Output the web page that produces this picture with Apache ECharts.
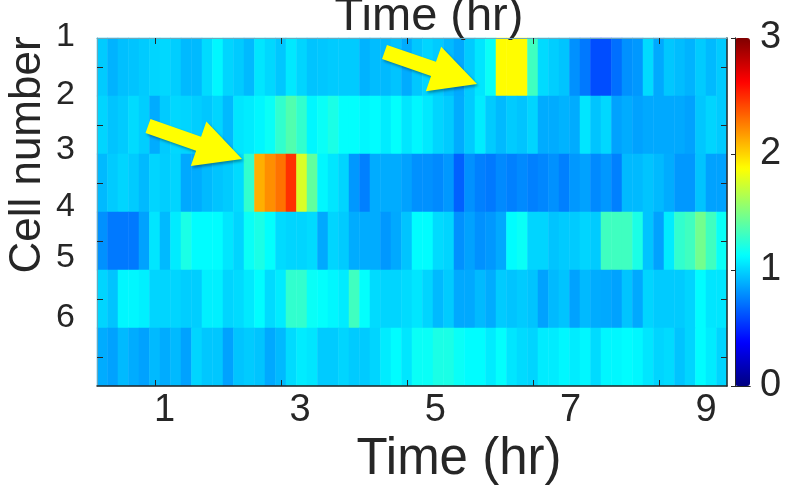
<!DOCTYPE html>
<html>
<head>
<meta charset="utf-8">
<script src="https://cdn.jsdelivr.net/npm/echarts@6/dist/echarts.min.js"></script>
<style>html,body{margin:0;padding:0;background:#fff;}#c{width:808px;height:503px;}</style>
</head>
<body>
<div id="c"></div>
<script>
// ---- data ----
var cells = ['1', '2', '3', '4', '5', '6'];
var xTickLabels = [1, 3, 5, 7, 9];
var cbarTicks = [0, 1, 2, 3];
var cell1 = [0.97,0.9,0.94,0.95,0.97,1.0,1.01,0.98,0.92,0.92,1.02,1.1,1.0,0.97,0.92,1.05,1.01,0.96,1.06,1.0,
             0.95,0.96,0.97,0.97,0.97,0.9,0.93,0.92,0.95,0.88,0.96,1.0,0.97,0.92,0.87,0.97,1.05,1.15,1.88,1.88,
             1.88,1.31,1.02,0.98,0.95,0.8,0.73,0.6,0.6,0.7,0.8,0.82,1.02,0.87,0.96,0.93,0.9,0.97,0.92,0.97];
var cell2 = [1.0,0.95,0.97,1.02,0.98,0.88,0.97,1.01,1.0,0.98,0.96,1.0,0.92,1.05,1.07,1.1,1.15,1.27,1.36,1.27,
             1.1,1.15,1.2,1.13,1.13,1.1,1.12,1.07,1.13,1.05,1.1,1.06,1.0,0.97,0.88,0.97,1.07,0.97,0.92,0.97,
             0.95,1.0,0.88,0.88,0.9,0.88,1.05,0.95,1.01,0.85,0.88,0.85,0.87,0.87,0.87,0.87,0.85,0.96,1.0,0.97];
var cell3 = [0.92,0.97,1.0,0.97,0.92,1.0,0.98,1.0,0.87,0.88,0.92,0.95,0.97,1.02,1.27,2.11,2.21,2.29,2.48,1.76,
             1.41,1.1,1.05,1.0,0.82,0.75,0.88,0.88,0.88,0.85,0.8,0.8,0.78,0.82,0.66,0.8,0.75,0.73,0.78,0.75,
             0.78,0.75,0.77,0.8,0.75,0.82,0.85,0.78,0.82,0.75,0.92,0.92,0.95,0.92,0.88,0.82,0.82,0.95,0.85,0.85];
var cell4 = [0.8,0.73,0.73,0.73,0.85,1.05,0.92,1.07,1.2,1.12,1.12,1.12,1.05,1.0,1.15,1.2,1.13,1.02,1.0,1.0,
             1.02,0.87,1.0,0.97,0.88,0.88,0.88,0.82,0.87,0.95,1.12,1.12,1.02,1.0,0.8,0.85,0.8,0.82,0.87,1.12,
             1.15,1.0,1.0,0.95,0.97,0.97,1.0,0.97,1.31,1.31,1.31,1.2,0.95,0.85,1.07,1.27,1.31,1.46,1.31,1.15];
var cell5 = [1.0,0.95,1.1,1.1,1.08,1.0,1.0,1.0,0.98,0.98,1.08,1.08,1.0,1.02,1.06,1.12,1.02,1.07,1.27,1.27,
             1.15,1.13,1.1,1.07,1.31,1.13,1.02,1.0,1.0,1.02,1.05,1.0,0.92,0.97,0.87,0.87,0.92,0.88,0.97,0.95,
             0.97,0.95,0.85,0.92,0.95,0.85,0.92,0.88,0.87,0.85,0.95,0.87,1.0,0.97,0.97,0.97,1.0,1.12,1.05,1.05];
var cell6 = [0.88,0.85,0.92,0.88,0.85,0.92,0.88,0.92,0.85,1.0,0.96,0.96,0.85,0.95,0.97,0.95,0.87,0.92,1.02,1.07,
             1.05,0.97,0.97,1.0,0.97,0.97,1.0,1.07,1.12,1.05,1.15,1.15,1.2,1.2,1.15,1.12,1.12,1.07,1.13,1.05,
             1.02,1.0,1.07,1.07,1.1,1.07,1.1,1.02,1.1,1.1,1.12,1.1,1.05,1.0,1.02,0.95,1.0,1.12,1.07,1.0];
var timeMax = 9.31;   // hr at right edge of the map
// ---- build ----
var rows = [cell1, cell2, cell3, cell4, cell5, cell6];
var bins = cell1.map(function (_, i) { return String(i); });
var heat = [];
rows.forEach(function (r, ri) { r.forEach(function (v, ci) { heat.push([ci, ri, v]); }); });

var FONT = 'Liberation Sans, Arial, sans-serif';
var DARK = '#262626';
var LIGHT = '#6fa7b8';
var jet = ['#000080', '#0000ff', '#0080ff', '#00ffff', '#80ff80', '#ffff00', '#ff8000', '#ff0000', '#800000'];
var yShift = [30, 30, 33, 34, 41, 39];
var rich = {};
yShift.forEach(function (s, i) { rich['r' + i] = { fontSize: 34, fontFamily: FONT, color: DARK, padding: [0, 0, 2 * s, 0] }; });

function arrow(tail, tip, sw, hw, hl) {
  var dx = tip[0] - tail[0], dy = tip[1] - tail[1];
  var L = Math.sqrt(dx * dx + dy * dy), ux = dx / L, uy = dy / L, px = -uy, py = ux;
  function pt(a, b) { return [tail[0] + ux * a + px * b, tail[1] + uy * a + py * b]; }
  return [pt(0, -sw / 2), pt(L - hl, -sw / 2), pt(L - hl, -hw / 2), pt(L, 0), pt(L - hl, hw / 2), pt(L - hl, sw / 2), pt(0, sw / 2)];
}
function arrowEl(tail, tip) {
  return {
    type: 'polygon', z: 100,
    shape: { points: arrow(tail, tip, 15, 47, 46) },
    style: { fill: '#ffff00', shadowBlur: 3, shadowOffsetX: 1.5, shadowOffsetY: 2, shadowColor: 'rgba(0,0,0,0.35)' }
  };
}

var chart = echarts.init(document.getElementById('c'), null, { renderer: 'canvas' });
chart.setOption({
  backgroundColor: '#ffffff',
  animation: false,
  grid: [
    { left: 97, top: 38, width: 630, height: 348, containLabel: false, outerBoundsMode: 'none' },
    { left: 735, top: 38, width: 15, height: 348, containLabel: false, outerBoundsMode: 'none' }
  ],
  xAxis: [
    { type: 'category', gridIndex: 0, data: bins, position: 'bottom', boundaryGap: true,
      axisLine: { show: true, lineStyle: { color: DARK, width: 1.5 } },
      axisTick: { show: true, inside: true, length: 6, alignWithLabel: true, interval: function (i) { return i % 12 === 5; }, lineStyle: { color: DARK } },
      axisLabel: { show: false }, splitLine: { show: false }, z: 5 },
    { type: 'category', gridIndex: 0, data: bins, position: 'top', boundaryGap: true,
      name: 'Time (hr)', nameLocation: 'middle', nameGap: -3,
      nameTextStyle: { fontSize: 47, fontFamily: FONT, color: DARK, padding: [0, 0, 0, 34], verticalAlign: 'bottom' },
      axisLine: { show: true, lineStyle: { color: LIGHT, width: 1 } },
      axisTick: { show: true, inside: true, length: 6, alignWithLabel: true, interval: function (i) { return i % 12 === 5; }, lineStyle: { color: DARK } },
      axisLabel: { show: false }, splitLine: { show: false }, z: 5 },
    { type: 'value', gridIndex: 0, position: 'bottom', min: 0, max: timeMax, interval: 1,
      name: 'Time (hr)', nameLocation: 'middle', nameGap: 46,
      nameTextStyle: { fontSize: 51, fontFamily: FONT, color: DARK, padding: [0, 0, 0, 94] },
      axisLine: { show: false }, axisTick: { show: false }, splitLine: { show: false },
      axisLabel: { show: true, margin: 6, fontSize: 38, fontFamily: FONT, color: DARK,
        formatter: function (v) { return xTickLabels.indexOf(v) >= 0 ? String(v) : ''; } } },
    { type: 'value', gridIndex: 1, position: 'bottom', min: 0, max: 1, z: 6,
      axisLine: { show: true, lineStyle: { color: DARK, width: 1 } }, axisTick: { show: false }, axisLabel: { show: false }, splitLine: { show: false } },
    { type: 'value', gridIndex: 1, position: 'top', min: 0, max: 1, z: 6,
      axisLine: { show: true, lineStyle: { color: DARK, width: 1 } }, axisTick: { show: false }, axisLabel: { show: false }, splitLine: { show: false } }
  ],
  yAxis: [
    { type: 'category', gridIndex: 0, data: cells, inverse: true, position: 'left', boundaryGap: true,
      name: 'Cell number', nameLocation: 'middle', nameGap: 47, nameRotate: 90, nameMoveOverlap: false,
      nameTextStyle: { fontSize: 44, fontFamily: FONT, color: DARK, padding: [0, 0, 0, 114] },
      axisLine: { show: true, lineStyle: { color: LIGHT, width: 1 } },
      axisTick: { show: true, inside: true, length: 6, alignWithLabel: true, lineStyle: { color: DARK } },
      axisLabel: { show: true, margin: 22, formatter: function (v, i) { return '{r' + i + '|' + v + '}'; }, rich: rich },
      splitLine: { show: false }, z: 5 },
    { type: 'category', gridIndex: 0, data: cells, inverse: true, position: 'right', boundaryGap: true,
      axisLine: { show: true, lineStyle: { color: DARK, width: 1.5 } },
      axisTick: { show: true, inside: true, length: 6, alignWithLabel: true, lineStyle: { color: DARK } },
      axisLabel: { show: false }, splitLine: { show: false }, z: 5 },
    { type: 'value', gridIndex: 1, position: 'right', min: 0, max: 3, interval: 1, z: 6,
      axisLine: { show: true, lineStyle: { color: DARK, width: 1 } },
      axisTick: { show: true, inside: true, length: 4, lineStyle: { color: DARK } },
      axisLabel: { show: true, margin: 10, fontSize: 38, fontFamily: FONT, color: DARK,
        formatter: function (v) { return cbarTicks.indexOf(v) >= 0 ? String(v) : ''; } },
      splitLine: { show: false } },
    { type: 'value', gridIndex: 1, position: 'left', min: 0, max: 3, z: 6,
      axisLine: { show: true, lineStyle: { color: DARK, width: 1 } }, axisTick: { show: false }, axisLabel: { show: false }, splitLine: { show: false } }
  ],
  visualMap: {
    type: 'continuous', min: 0, max: 3, seriesIndex: 0, show: true, calculable: false,
    orient: 'vertical', left: 735, top: 38, itemWidth: 15, itemHeight: 348, padding: 0,
    text: null, showLabel: false, hoverLink: false,
    inRange: { color: jet }
  },
  series: [{
    type: 'heatmap', xAxisIndex: 0, yAxisIndex: 0, data: heat,
    itemStyle: { borderWidth: 0 }, emphasis: { disabled: true }, progressive: 0
  }],
  graphic: [
    arrowEl([148, 126], [242, 159]),
    arrowEl([384.5, 52], [477, 84])
  ]
});
</script>
</body>
</html>
